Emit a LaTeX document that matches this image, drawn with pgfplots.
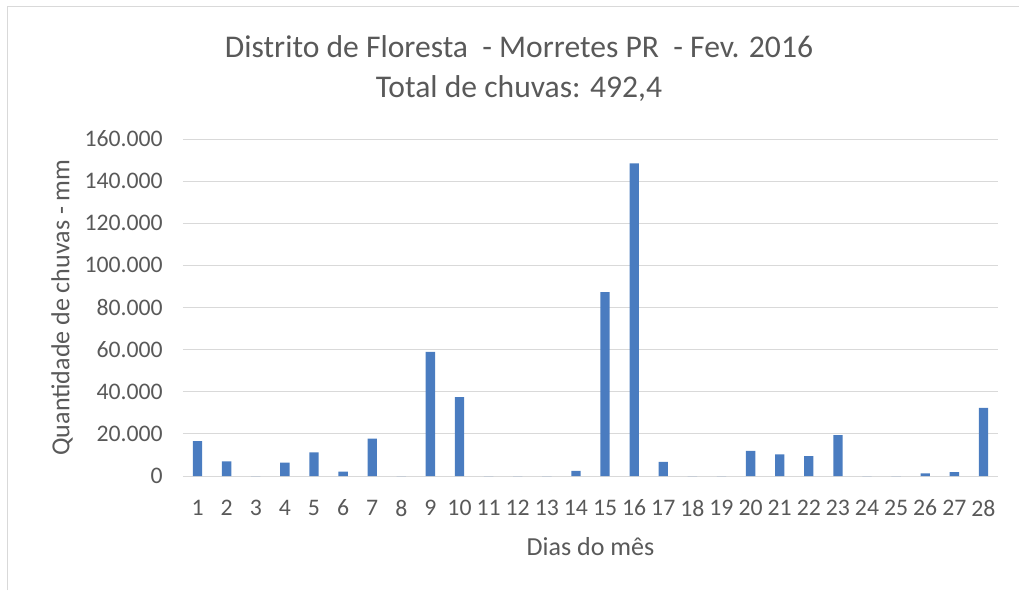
\documentclass[border=0pt]{standalone}
\usepackage{pgfplots}
\pgfplotsset{compat=1.18}
\usepackage{fontspec}
\setmainfont{Carlito}
\definecolor{txt}{RGB}{89,89,89}
\definecolor{gridc}{RGB}{217,217,217}
\definecolor{barc}{RGB}{74,124,192}
\begin{document}
\begin{tikzpicture}
\useasboundingbox (-137.25pt,-85.5pt) rectangle (627pt,357pt);
\draw[color=gridc, line width=0.75pt] (-131.25pt,-85.5pt) -- (-131.25pt,351.75pt) -- (627pt,351.75pt);
\begin{axis}[
  at={(0,0)}, anchor=south west,
  scale only axis, width=611.25pt, height=252.75pt,
  xmin=0.5, xmax=28.5, ymin=0, ymax=160,
  ybar, bar width=7pt,
  xtick={1,...,28},
  ytick={0,20,...,160},
  yticklabels={0,20.000,40.000,60.000,80.000,100.000,120.000,140.000,160.000},
  /pgf/number format/assume math mode=true,
  axis line style={draw=none},
  major tick length=0pt,
  ymajorgrids, grid style={draw=gridc, line width=0.75pt},
  tick label style={font=\fontsize{17.8}{20}\selectfont, color=txt},
  xticklabel style={anchor=center, yshift=-24pt},
  yticklabel style={anchor=east, inner sep=0pt, xshift=-15pt},
  xlabel={Dias do mês},
  ylabel={Quantidade de chuvas - mm},
  label style={font=\fontsize{19.5}{22}\selectfont, color=txt},
  xlabel style={at={(axis description cs:0.5,-0.2107)}, anchor=center},
  ylabel style={at={(axis description cs:-0.1485,0.5)}, anchor=center},
  title={Distrito de Floresta\ \ - Morretes PR\ \ - Fev. 2016\\Total de chuvas: 492,4},
  title style={at={(axis description cs:0.4123,1.186)}, anchor=center, align=center,
    font=\fontsize{23.7}{30}\selectfont, color=txt},
]
\addplot[fill=barc, draw=none] coordinates {
(1,16.6) (2,6.9) (3,0) (4,6.3) (5,11.2) (6,2.1) (7,17.7) (8,0) (9,58.9) (10,37.4)
(11,0) (12,0) (13,0) (14,2.4) (15,87.3) (16,148.4) (17,6.7) (18,0) (19,0) (20,11.9)
(21,10.3) (22,9.4) (23,19.4) (24,0) (25,0) (26,1.3) (27,1.9) (28,32.4)
};
\end{axis}
\end{tikzpicture}
\end{document}
